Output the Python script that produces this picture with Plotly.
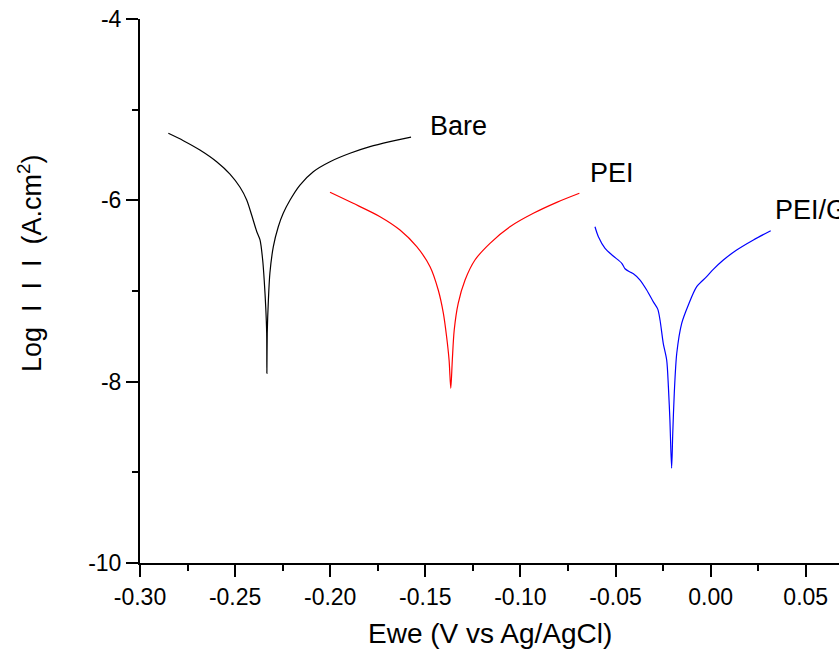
import plotly.graph_objects as go

# Potentiodynamic polarization (Tafel) curves: log|i| versus potential
bare_e = [-0.2851, -0.2772, -0.2685, -0.2597, -0.2527, -0.2474, -0.2439, -0.2413,
          -0.2386, -0.2369, -0.2355, -0.2347, -0.2339, -0.2334, -0.2333,
          -0.2331, -0.2325, -0.2317, -0.2299, -0.2273, -0.2247, -0.2211, -0.2159,
          -0.2089, -0.2001, -0.1896, -0.1791, -0.1686, -0.1575]
bare_logi = [-5.261, -5.342, -5.445, -5.574, -5.710, -5.856, -5.996, -6.162,
             -6.346, -6.437, -6.658, -6.879, -7.173, -7.466, -7.908,
             -7.463, -7.099, -6.801, -6.511, -6.291, -6.143, -5.996, -5.831,
             -5.684, -5.574, -5.481, -5.408, -5.353, -5.303]

pei_e = [-0.2001, -0.1879, -0.1738, -0.1633, -0.1545, -0.1475, -0.1432, -0.1405,
         -0.1388, -0.1375, -0.1366,
         -0.1358, -0.1348, -0.1327, -0.1291, -0.1239, -0.1160, -0.1055, -0.0932,
         -0.0809, -0.0690]
pei_logi = [-5.911, -6.033, -6.180, -6.327, -6.511, -6.732, -6.989, -7.246,
            -7.504, -7.761, -8.073,
            -7.761, -7.430, -7.136, -6.879, -6.658, -6.474, -6.291, -6.143,
            -6.022, -5.922]

peig_e = [-0.0608, -0.0590, -0.0555, -0.0512, -0.0467, -0.0450, -0.0424, -0.0406,
          -0.0371, -0.0336, -0.0301, -0.0278, -0.0266, -0.0249, -0.0231, -0.0222,
          -0.0214, -0.0205,
          -0.0199, -0.0191, -0.0178, -0.0152, -0.0117, -0.0073, -0.0021, 0.0014,
          0.0067, 0.0137, 0.0225, 0.0316]
peig_logi = [-6.291, -6.401, -6.529, -6.614, -6.694, -6.755, -6.790, -6.810,
             -6.879, -6.989, -7.120, -7.200, -7.320, -7.577, -7.761, -8.055,
             -8.423, -8.955,
             -8.569, -8.128, -7.687, -7.356, -7.154, -6.952, -6.842, -6.761,
             -6.658, -6.548, -6.437, -6.335]

series_names = ["Bare", "PEI", "PEI/GO"]
series_colors = ["#000000", "#ff0000", "#0000ff"]
label_pos = [(-0.1486, -5.18), (-0.0645, -5.693), (0.0328, -6.107)]

x_ticks = [-0.30, -0.25, -0.20, -0.15, -0.10, -0.05, 0.00, 0.05]
x_tick_text = ["-0.30", "-0.25", "-0.20", "-0.15", "-0.10", "-0.05", "0.00", "0.05"]
y_ticks = [-10, -8, -6, -4]
y_tick_text = ["-10", "-8", "-6", "-4"]

FONT = "Arial, 'Liberation Sans', sans-serif"
NB = "\u00a0"

fig = go.Figure()
for xs, ys, name, col in zip([bare_e, pei_e, peig_e], [bare_logi, pei_logi, peig_logi],
                             series_names, series_colors):
    fig.add_trace(go.Scatter(x=xs, y=ys, mode="lines", name=name,
                             line=dict(color=col, width=1.2, shape="spline", smoothing=0.8),
                             showlegend=False, cliponaxis=False))

for name, (lx, ly) in zip(series_names, label_pos):
    fig.add_annotation(x=lx, y=ly, xref="x", yref="y", text=name, showarrow=False,
                       xanchor="left", yanchor="middle",
                       font=dict(family=FONT, size=27, color="black"))

fig.add_annotation(x=0.5, y=0, xref="paper", yref="paper", yshift=-70,
                   text="Ewe (V vs Ag/AgCl)", showarrow=False,
                   xanchor="center", yanchor="middle",
                   font=dict(family=FONT, size=28, color="black"))
y_title = "Log" + NB * 2 + "I" + NB * 2 + "I" + NB * 2 + "I" + NB * 2 + "(A.cm<sup>2</sup>)"
fig.add_annotation(x=0, y=0.5, xref="paper", yref="paper", xshift=-110, yshift=28,
                   text=y_title, showarrow=False, textangle=-90,
                   xanchor="center", yanchor="middle",
                   font=dict(family=FONT, size=27, color="black"))

axis_common = dict(showline=True, linecolor="black", linewidth=2, ticks="outside",
                   ticklen=12, tickwidth=2, tickcolor="black", showgrid=False,
                   zeroline=False, tickfont=dict(family=FONT, size=23, color="black"))

fig.update_xaxes(range=[-0.30, 0.0675], tickvals=x_ticks, ticktext=x_tick_text,
                 minor=dict(dtick=0.025, tick0=-0.30, ticks="outside", ticklen=6,
                            tickwidth=2, tickcolor="black"),
                 **axis_common)
fig.update_yaxes(range=[-10, -4], tickvals=y_ticks, ticktext=y_tick_text,
                 minor=dict(dtick=1, tick0=-10, ticks="outside", ticklen=6,
                            tickwidth=2, tickcolor="black"),
                 **axis_common)

fig.update_layout(width=839, height=651, margin=dict(l=140, r=0, t=19, b=88),
                  plot_bgcolor="white", paper_bgcolor="white")

fig.write_html("out.html")
